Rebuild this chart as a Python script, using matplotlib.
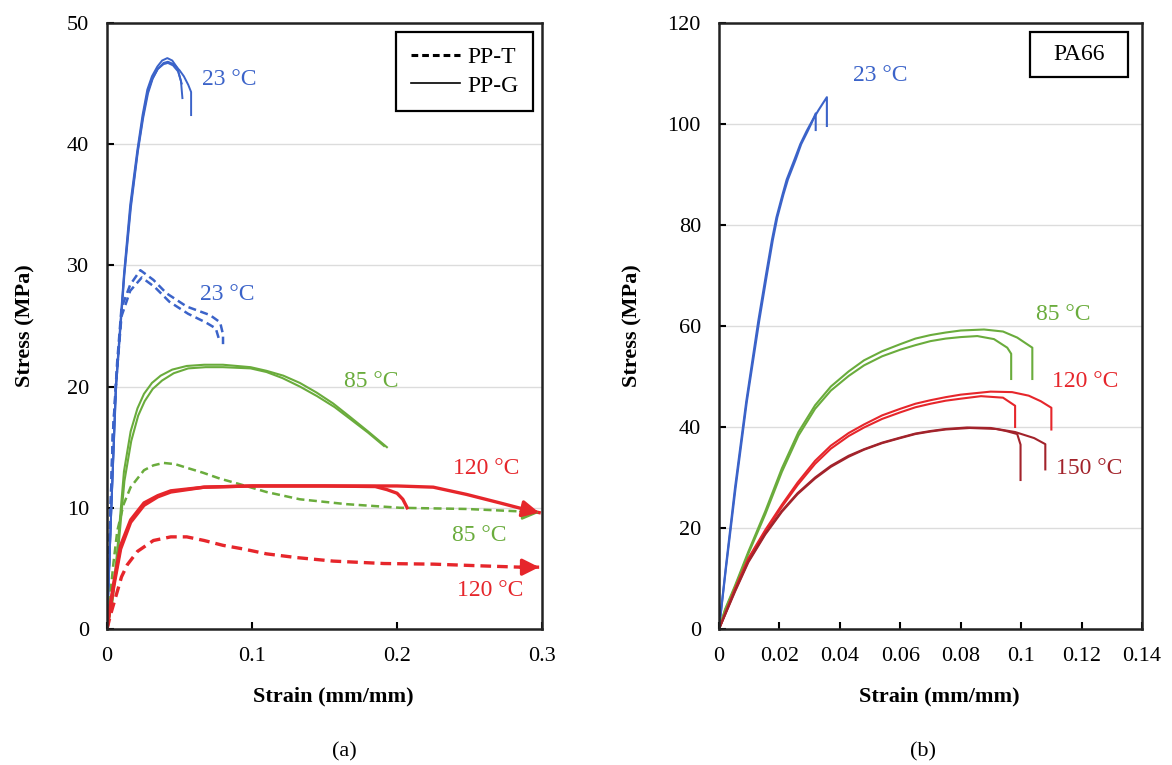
import matplotlib
matplotlib.use("Agg")
import matplotlib.pyplot as plt
from matplotlib.lines import Line2D
from matplotlib.patches import Rectangle
from matplotlib.ticker import FuncFormatter

plt.rcParams["font.family"] = ["Liberation Serif", "DejaVu Serif"]

BLUE = "#3b63c9"
GREEN = "#6aac3c"
RED = "#e6262b"
DARKRED = "#a2232b"

# ---- (a) PP-T / PP-G ----
ppg23_a_x = [0, 0.003, 0.006, 0.0117, 0.016, 0.0209, 0.0245, 0.0278, 0.031, 0.0347, 0.038, 0.0416,
             0.045, 0.0485, 0.051, 0.052]
ppg23_a_y = [0, 10, 20, 29.3, 35.0, 39.5, 42.4, 44.5, 45.6, 46.4, 46.9, 47.1,
             46.9, 46.3, 45.2, 43.8]
ppg23_b_x = [0, 0.003, 0.0063, 0.012, 0.0165, 0.0213, 0.025, 0.0283, 0.0315, 0.035, 0.039, 0.042,
             0.046, 0.050, 0.053, 0.056, 0.058, 0.058]
ppg23_b_y = [0, 10, 20, 29.2, 34.8, 39.4, 42.2, 44.2, 45.4, 46.2, 46.7, 46.8,
             46.6, 46.1, 45.6, 44.9, 44.3, 42.4]
ppg23_c_x = [0, 0.003, 0.0062, 0.0118, 0.0163, 0.0211, 0.0248, 0.028, 0.0313, 0.035, 0.039, 0.042,
             0.0455, 0.049, 0.0515]
ppg23_c_y = [0, 10, 20, 29.2, 34.9, 39.4, 42.3, 44.3, 45.4, 46.2, 46.6, 46.7,
             46.5, 46.0, 45.0]

ppt23_a_x = [0, 0.002, 0.004, 0.007, 0.010, 0.016, 0.023, 0.032, 0.041, 0.055, 0.071, 0.078, 0.080, 0.080]
ppt23_a_y = [0, 8, 16, 22, 26.5, 28.4, 29.6, 28.8, 27.7, 26.6, 25.9, 25.3, 24.3, 23.5]
ppt23_b_x = [0, 0.002, 0.004, 0.007, 0.010, 0.016, 0.024, 0.033, 0.043, 0.056, 0.068, 0.075, 0.077]
ppt23_b_y = [0, 8, 16, 21.5, 25.8, 27.9, 29.0, 28.2, 27.0, 26.0, 25.3, 24.8, 24.0]

ppg85_a_x = [0, 0.0037, 0.0071, 0.0117, 0.0163, 0.021, 0.0255, 0.031, 0.037, 0.045, 0.055, 0.067, 0.080,
             0.099, 0.110, 0.1216, 0.133, 0.1446, 0.156, 0.1676, 0.180, 0.193]
ppg85_a_y = [0, 2.5, 6.5, 13.0, 16.3, 18.2, 19.4, 20.3, 20.9, 21.4, 21.7, 21.8, 21.8,
             21.6, 21.3, 20.9, 20.3, 19.5, 18.6, 17.5, 16.3, 15.0]
ppg85_b_x = [0, 0.0038, 0.0073, 0.012, 0.0167, 0.0215, 0.026, 0.0315, 0.038, 0.046, 0.056, 0.068, 0.080,
             0.099, 0.110, 0.121, 0.133, 0.145, 0.157, 0.168, 0.180, 0.191]
ppg85_b_y = [0, 2.3, 6.0, 12.2, 15.5, 17.6, 18.8, 19.8, 20.5, 21.1, 21.5, 21.6, 21.6,
             21.5, 21.2, 20.7, 20.0, 19.2, 18.3, 17.3, 16.2, 15.1]

ppt85_x = [0, 0.002, 0.0045, 0.0071, 0.0115, 0.0163, 0.0255, 0.032, 0.039, 0.047, 0.055, 0.066, 0.078,
           0.090, 0.110, 0.133, 0.165, 0.202, 0.248, 0.285, 0.298]
ppt85_y = [0, 2.5, 5.5, 8.1, 10.3, 11.7, 13.1, 13.5, 13.7, 13.6, 13.3, 12.9, 12.4,
           12.0, 11.3, 10.7, 10.3, 10.0, 9.9, 9.7, 9.6]

ppg120_a_x = [0, 0.002, 0.0048, 0.0094, 0.0163, 0.0255, 0.035, 0.044, 0.067, 0.100, 0.150, 0.185,
              0.193, 0.200, 0.204, 0.207]
ppg120_a_y = [0, 1.8, 3.9, 6.9, 9.0, 10.4, 11.0, 11.4, 11.7, 11.8, 11.8, 11.75,
              11.5, 11.2, 10.7, 10.0]
ppg120_b_x = [0, 0.002, 0.0048, 0.0094, 0.0163, 0.0255, 0.035, 0.044, 0.067, 0.100, 0.150, 0.200,
              0.225, 0.248, 0.271, 0.287, 0.298]
ppg120_b_y = [0, 1.6, 3.6, 6.6, 8.8, 10.2, 10.9, 11.3, 11.7, 11.8, 11.8, 11.8,
              11.7, 11.1, 10.4, 9.9, 9.6]

ppt120_x = [0, 0.0025, 0.0071, 0.010, 0.014, 0.021, 0.032, 0.044, 0.055, 0.067, 0.080, 0.094, 0.110,
            0.130, 0.156, 0.191, 0.225, 0.260, 0.285, 0.298]
ppt120_y = [0, 1.2, 3.1, 4.3, 5.3, 6.4, 7.3, 7.6, 7.6, 7.3, 6.9, 6.6, 6.2,
            5.9, 5.6, 5.4, 5.35, 5.2, 5.1, 5.1]

# ---- (b) PA66 ----
pa23_a_x = [0, 0.0022, 0.0053, 0.009, 0.013, 0.0155, 0.0175, 0.019, 0.021, 0.0224, 0.025, 0.0269,
            0.029, 0.031, 0.033, 0.0345, 0.0357, 0.0357]
pa23_a_y = [0, 12, 28, 45, 61, 70, 77, 81.5, 86, 89, 93, 96,
            98.6, 100.8, 102.8, 104.2, 105.3, 99.6]
pa23_b_x = [0, 0.0023, 0.0055, 0.0092, 0.0133, 0.0158, 0.0178, 0.0193, 0.0213, 0.0228, 0.0254, 0.0272,
            0.0292, 0.0308, 0.0320, 0.0320]
pa23_b_y = [0, 12, 28, 45, 61, 70, 77, 81.5, 86, 89, 93, 96,
            98.4, 100.4, 102.1, 98.8]

pa85_a_x = [0, 0.002, 0.0053, 0.0097, 0.0153, 0.0208, 0.0263, 0.0318, 0.037, 0.0429, 0.048, 0.054,
            0.060, 0.065, 0.070, 0.075, 0.080, 0.0877, 0.094, 0.0987, 0.1037, 0.1037]
pa85_a_y = [0, 3.9, 8.6, 15.3, 23.3, 31.8, 39.0, 44.3, 48.0, 51.0, 53.2, 55.0,
            56.4, 57.5, 58.2, 58.7, 59.1, 59.3, 58.9, 57.7, 55.7, 49.5]
pa85_b_x = [0, 0.002, 0.0053, 0.0097, 0.0153, 0.0208, 0.0263, 0.0318, 0.037, 0.0429, 0.048, 0.054,
            0.060, 0.065, 0.070, 0.075, 0.080, 0.0855, 0.091, 0.0954, 0.0967, 0.0967]
pa85_b_y = [0, 3.7, 8.3, 14.9, 22.7, 31.1, 38.3, 43.6, 47.2, 50.1, 52.2, 54.0,
            55.3, 56.2, 57.0, 57.5, 57.8, 58.0, 57.4, 55.7, 54.5, 49.5]

pa120_a_x = [0, 0.0053, 0.0097, 0.0153, 0.0208, 0.026, 0.0318, 0.037, 0.0429, 0.048, 0.054, 0.060,
             0.065, 0.070, 0.075, 0.080, 0.0899, 0.097, 0.1025, 0.1065, 0.110, 0.110]
pa120_a_y = [0, 8.0, 14.0, 19.6, 24.6, 29.0, 33.3, 36.3, 38.8, 40.5, 42.3, 43.6,
             44.6, 45.3, 45.9, 46.4, 47.0, 46.9, 46.2, 45.1, 43.8, 39.5]
pa120_b_x = [0, 0.0053, 0.0097, 0.0153, 0.0208, 0.026, 0.0318, 0.037, 0.0429, 0.048, 0.054, 0.060,
             0.065, 0.070, 0.075, 0.080, 0.0867, 0.094, 0.098, 0.098]
pa120_b_y = [0, 7.9, 13.8, 19.3, 24.2, 28.5, 32.7, 35.7, 38.2, 39.9, 41.6, 42.9,
             43.9, 44.6, 45.2, 45.6, 46.1, 45.8, 44.2, 40.0]

pa150_a_x = [0, 0.0053, 0.0097, 0.0153, 0.0208, 0.026, 0.0318, 0.037, 0.0429, 0.048, 0.054, 0.060,
             0.065, 0.070, 0.075, 0.0821, 0.090, 0.095, 0.0987, 0.0998, 0.0998]
pa150_a_y = [0, 7.6, 13.4, 18.9, 23.4, 26.9, 30.0, 32.3, 34.3, 35.6, 36.9, 37.9,
             38.7, 39.2, 39.6, 39.9, 39.8, 39.2, 38.6, 36.5, 29.5]
pa150_b_x = [0, 0.0053, 0.0097, 0.0153, 0.0208, 0.026, 0.0318, 0.037, 0.0429, 0.048, 0.054, 0.060,
             0.065, 0.070, 0.075, 0.083, 0.092, 0.098, 0.1043, 0.108, 0.108]
pa150_b_y = [0, 7.4, 13.2, 18.7, 23.2, 26.7, 29.8, 32.1, 34.1, 35.5, 36.8, 37.8,
             38.6, 39.1, 39.5, 39.8, 39.6, 39.0, 37.8, 36.6, 31.6]

# temperature labels: (text, x, y, colour)
labels_a = [("23 °C", 0.084, 45.3, BLUE), ("23 °C", 0.083, 27.6, BLUE),
            ("85 °C", 0.182, 20.4, GREEN), ("120 °C", 0.2614, 13.2, RED),
            ("85 °C", 0.257, 7.7, GREEN), ("120 °C", 0.2643, 3.2, RED)]
labels_b = [("23 °C", 0.0534, 109.5, BLUE), ("85 °C", 0.1139, 62.2, GREEN),
            ("120 °C", 0.1211, 49.0, RED), ("150 °C", 0.1224, 31.8, DARKRED)]


def style_axes(ax, xmax, xstep, ymax, ystep):
    ax.set_xlim(0, xmax)
    ax.set_ylim(0, ymax)
    xt = [i * xstep for i in range(int(round(xmax / xstep)) + 1)]
    yt = [i * ystep for i in range(int(round(ymax / ystep)) + 1)]
    ax.set_xticks(xt)
    ax.set_yticks(yt)
    ax.xaxis.set_major_formatter(FuncFormatter(lambda v, p: f"{round(v, 4):g}"))
    ax.yaxis.set_major_formatter(FuncFormatter(lambda v, p: f"{v:g}"))
    ax.tick_params(direction="in", length=5, width=1.5, labelsize=16, pad=13,
                   top=False, right=False)
    ax.grid(axis="y", color="#dcdcdc", lw=1.0)
    ax.set_axisbelow(True)
    for s in ax.spines.values():
        s.set_linewidth(1.8)
        s.set_color("#222222")
    ax.set_xlabel("Strain (mm/mm)", fontsize=16, fontweight="bold")
    ax.set_ylabel("Stress (MPa)", fontsize=16, fontweight="bold")


fig = plt.figure(figsize=(11.72, 7.65), dpi=100)
ax1 = fig.add_axes([0.0913, 0.1778, 0.3712, 0.7922])
ax2 = fig.add_axes([0.6135, 0.1778, 0.3609, 0.7922])

# (a)
dash = (3.2, 1.8)
for xs, ys in [(ppg23_a_x, ppg23_a_y), (ppg23_b_x, ppg23_b_y), (ppg23_c_x, ppg23_c_y)]:
    ax1.plot(xs, ys, color=BLUE, lw=1.4)
for xs, ys in [(ppt23_a_x, ppt23_a_y), (ppt23_b_x, ppt23_b_y)]:
    ax1.plot(xs, ys, color=BLUE, lw=1.8, ls=(0, dash))
for xs, ys in [(ppg85_a_x, ppg85_a_y), (ppg85_b_x, ppg85_b_y)]:
    ax1.plot(xs, ys, color=GREEN, lw=1.5)
ax1.plot(ppt85_x, ppt85_y, color=GREEN, lw=1.8, ls=(0, dash))
for xs, ys in [(ppg120_a_x, ppg120_a_y), (ppg120_b_x, ppg120_b_y)]:
    ax1.plot(xs, ys, color=RED, lw=2.4)
ax1.plot(ppt120_x, ppt120_y, color=RED, lw=2.4, ls=(0, dash))

for xs, ys, c, lw in [(ppt85_x, ppt85_y, GREEN, 1.8), (ppg120_b_x, ppg120_b_y, RED, 2.4),
                      (ppt120_x, ppt120_y, RED, 2.4)]:
    ax1.annotate("", xy=(xs[-1], ys[-1]), xytext=(xs[-2], ys[-2]),
                 arrowprops=dict(arrowstyle="-|>", color=c, lw=lw, mutation_scale=25,
                                 shrinkA=0, shrinkB=0))

for t, x, y, c in labels_a:
    ax1.text(x, y, t, color=c, fontsize=17, ha="center", va="center")

style_axes(ax1, 0.3, 0.1, 50, 10)
ax1.xaxis.set_label_coords(0.52, -0.095)
ax1.yaxis.set_label_coords(-0.165, 0.5)

handles = [Line2D([], [], color="black", lw=2.2, ls=(0, (2.2, 1.3))),
           Line2D([], [], color="black", lw=1.2)]
leg = ax1.legend(handles, ["PP-T", "PP-G"], loc="upper right", fontsize=17,
                 frameon=True, fancybox=False, framealpha=1, edgecolor="black",
                 handlelength=2.1, handletextpad=0.3, labelspacing=0.3,
                 borderpad=0.6, borderaxespad=0.4)
leg.get_frame().set_linewidth(1.6)

# (b)
for xs, ys in [(pa23_a_x, pa23_a_y), (pa23_b_x, pa23_b_y)]:
    ax2.plot(xs, ys, color=BLUE, lw=1.5)
for xs, ys in [(pa85_a_x, pa85_a_y), (pa85_b_x, pa85_b_y)]:
    ax2.plot(xs, ys, color=GREEN, lw=1.5)
for xs, ys in [(pa120_a_x, pa120_a_y), (pa120_b_x, pa120_b_y)]:
    ax2.plot(xs, ys, color=RED, lw=1.5)
for xs, ys in [(pa150_a_x, pa150_a_y), (pa150_b_x, pa150_b_y)]:
    ax2.plot(xs, ys, color=DARKRED, lw=1.5)

for t, x, y, c in labels_b:
    ax2.text(x, y, t, color=c, fontsize=17, ha="center", va="center")

style_axes(ax2, 0.14, 0.02, 120, 20)
ax2.xaxis.set_label_coords(0.52, -0.095)
ax2.yaxis.set_label_coords(-0.18, 0.5)
ax2.add_patch(Rectangle((0.735, 0.911), 0.232, 0.074, transform=ax2.transAxes,
                        fc="white", ec="black", lw=1.6, zorder=5))
ax2.text(0.851, 0.948, "PA66", transform=ax2.transAxes, fontsize=17,
         ha="center", va="center", zorder=6)

fig.text(0.2935, 0.017, "(a)", fontsize=16, ha="center", va="center")
fig.text(0.7875, 0.017, "(b)", fontsize=16, ha="center", va="center")

fig.savefig("out.png", dpi=100)
